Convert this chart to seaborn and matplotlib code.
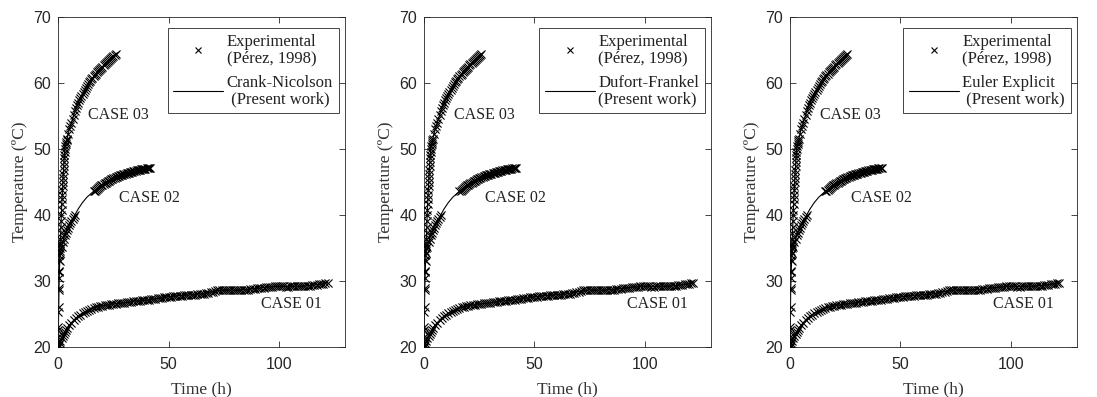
import numpy as np
import pandas as pd
import matplotlib
matplotlib.use("Agg")
import matplotlib.pyplot as plt
import seaborn as sns

# ---------------- data ----------------
# CASE 01 experimental
c1_t = [0, 0.3, 0.6, 1, 1.5, 2, 2.5, 3, 3.5, 4, 5, 6, 7, 8, 9, 10, 11, 12, 13, 14, 15, 16, 17, 18, 19,
        20, 21, 22, 23, 24, 25, 26, 27, 28, 29, 30, 31, 32, 33, 34, 35, 36, 37, 38, 39, 40, 41, 42, 43, 44,
        45, 46, 47, 48, 49, 50, 51, 52, 53, 54, 55, 56, 57, 58, 59, 60, 61, 62, 63, 64, 65, 66, 67, 68, 69,
        70, 71, 72, 73, 74, 75, 76, 77, 78, 79, 80, 81, 82, 83, 84, 85, 86, 87, 88, 89, 90, 91, 92, 93, 94,
        95, 96, 97, 98, 99, 100, 101, 102, 103, 104, 105, 106, 107, 108, 109, 110, 111, 112, 113, 114, 115,
        116, 117, 118, 119, 120, 121, 122]
c1_T = [20.0, 20.3, 20.6, 20.9, 21.3, 21.7, 22.0, 22.3, 22.6, 22.9, 23.3, 23.7, 24.1, 24.4, 24.7, 24.9,
        25.1, 25.3, 25.5, 25.6, 25.8, 25.9, 26.0, 26.1, 26.2, 26.2, 26.3, 26.35, 26.4, 26.45, 26.5, 26.5,
        26.6, 26.6, 26.65, 26.7, 26.75, 26.8, 26.85, 26.9, 26.95, 27.0, 27.0, 27.05, 27.1, 27.1, 27.15, 27.2,
        27.25, 27.3, 27.35, 27.4, 27.45, 27.5, 27.55, 27.6, 27.65, 27.7, 27.7, 27.75, 27.8, 27.8, 27.85,
        27.85, 27.9, 27.9, 27.95, 27.95, 28.0, 28.0, 28.05, 28.1, 28.15, 28.2, 28.3, 28.4, 28.5, 28.6, 28.65,
        28.7, 28.7, 28.65, 28.6, 28.6, 28.6, 28.6, 28.6, 28.6, 28.65, 28.65, 28.7, 28.7, 28.75, 28.8, 28.85,
        28.9, 28.95, 29.0, 29.0, 29.05, 29.1, 29.1, 29.15, 29.2, 29.2, 29.25, 29.2, 29.2, 29.15, 29.15, 29.2,
        29.2, 29.2, 29.2, 29.2, 29.2, 29.25, 29.25, 29.3, 29.3, 29.35, 29.4, 29.45, 29.5, 29.55, 29.6, 29.65, 29.7]

# CASE 02 experimental
c2_t = [0, 0.05, 0.1, 0.2, 0.3, 0.4, 0.5, 0.7, 1.0, 1.5, 2.0, 2.5, 3.0, 3.5, 4.0, 4.5, 5.0, 5.5, 6.0,
        6.5, 7.0, 7.5,
        16.0, 16.5, 17.0, 17.5, 18.0, 18.5, 19.0, 19.5, 20.0, 20.5, 21.0, 21.5, 22.0, 22.5, 23.0, 23.5,
        24.0, 24.5, 25.0, 25.5, 26.0, 26.5, 27.0, 27.5, 28.0, 28.5, 29.0, 29.5, 30.0, 30.5, 31.0, 31.5,
        32.0, 32.5, 33.0, 33.5, 34.0, 34.5, 35.0, 35.5, 36.0, 36.5, 37.0, 37.5, 38.0, 38.5, 39.0, 39.5,
        40.0, 40.5, 41.0, 41.5]
c2_T = [20.0, 21.5, 23.0, 26.0, 29.0, 30.5, 31.5, 33.0, 34.3, 35.2, 35.9, 36.4, 36.9, 37.3, 37.7, 38.1,
        38.5, 38.8, 39.1, 39.4, 39.7, 40.0,
        43.6, 43.7, 43.85, 44.0, 44.1, 44.25, 44.35, 44.5, 44.6, 44.7, 44.8, 44.9, 45.0, 45.1, 45.2, 45.3,
        45.4, 45.45, 45.55, 45.6, 45.7, 45.75, 45.85, 45.9, 46.0, 46.05, 46.1, 46.15, 46.2, 46.25, 46.3,
        46.35, 46.4, 46.45, 46.5, 46.55, 46.6, 46.65, 46.7, 46.75, 46.8, 46.8, 46.85, 46.9, 46.9, 46.95,
        47.0, 47.0, 47.05, 47.1, 47.1, 47.15]

# CASE 03 experimental
c3_t = [0, 0.05, 0.1, 0.2, 0.3, 0.4, 0.5, 0.6, 0.7, 0.8, 0.9, 1.0, 1.1, 1.2, 1.3, 1.4, 1.5, 1.6, 1.7,
        1.8, 1.9, 2.0, 2.1, 2.2, 2.3, 2.4, 2.5, 2.6, 2.7, 2.8, 2.9, 3.0, 3.2, 3.4, 3.6, 3.8, 4.0, 4.5, 5.0,
        5.5, 6.0, 6.5, 7.0, 7.5, 8.0, 8.5, 9.0, 9.5, 10.0, 10.5, 11.0, 11.5, 12.0, 12.5, 13.0, 13.5, 14.0,
        14.5, 15.0, 15.5, 16.0, 16.5, 17.0, 17.5, 18.0, 18.5, 19.0, 19.5, 20.0, 20.5, 21.0, 21.5, 22.0,
        22.5, 23.0, 23.5, 24.0, 24.5, 25.0, 25.5, 26.0]
c3_T = [20.0, 22.5, 25.3, 28.7, 31.4, 33.2, 34.0, 34.6, 35.0, 35.4, 35.8, 36.3, 37.3, 38.2, 39.1, 40.0,
        40.8, 41.6, 42.4, 43.1, 43.8, 44.4, 45.0, 45.6, 46.2, 46.8, 47.4, 48.0, 48.6, 49.1, 49.6, 50.0,
        50.4, 50.7, 51.0, 51.3, 51.5, 52.3, 53.0, 53.5, 54.0, 54.6, 55.2, 55.7, 56.2, 56.6, 57.0, 57.4,
        57.7, 58.1, 58.4, 58.7, 59.0, 59.3, 59.6, 59.85, 60.1, 60.35, 60.6, 60.8, 61.0, 61.2, 61.4, 61.6,
        61.8, 62.0, 62.2, 62.35, 62.5, 62.7, 62.9, 63.05, 63.2, 63.35, 63.5, 63.65, 63.8, 63.95, 64.1, 64.25, 64.4]

# Numerical solutions (present work)
m1_t = [0, 1, 2, 3, 4, 6, 8, 10, 12, 15, 18, 22, 26, 30, 35, 40, 45, 50, 55, 60, 65, 70, 75, 80, 85,
        90, 95, 100, 105, 110, 115, 122]
m1_T = [20.0, 20.9, 21.7, 22.3, 22.9, 23.7, 24.4, 24.9, 25.3, 25.8, 26.1, 26.35, 26.55, 26.7, 26.95,
        27.1, 27.35, 27.6, 27.8, 27.9, 28.05, 28.4, 28.65, 28.6, 28.7, 28.9, 29.1, 29.2, 29.2, 29.2, 29.35, 29.7]
m2_t = [0, 0.1, 0.2, 0.3, 0.5, 0.7, 1.0, 1.5, 2, 3, 4, 5, 6, 7, 8, 9, 10, 11, 12, 13, 14, 15, 16, 18,
        20, 22, 25, 28, 31, 34, 37, 40, 41.5]
m2_T = [20.0, 23.0, 26.0, 29.0, 31.5, 33.0, 34.3, 35.2, 35.9, 36.9, 37.7, 38.5, 39.1, 39.7, 40.3, 40.9,
        41.4, 41.9, 42.3, 42.7, 43.0, 43.3, 43.6, 44.1, 44.6, 45.0, 45.55, 46.0, 46.3, 46.6, 46.85, 47.0, 47.15]
m3_t = [0, 0.1, 0.2, 0.3, 0.5, 0.7, 1.0, 1.5, 2.0, 2.5, 3.0, 4.0, 5.0, 6.0, 8.0, 10.0, 12.0, 14.0,
        16.0, 18.0, 20.0, 22.0, 24.0, 26.0]
m3_T = [20.0, 25.3, 28.7, 31.4, 34.0, 35.0, 36.3, 40.8, 44.4, 47.4, 50.0, 51.5, 53.0, 54.0, 56.2, 57.7,
        59.0, 60.1, 61.0, 61.8, 62.5, 63.2, 63.8, 64.4]

methods = ["Crank-Nicolson\n (Present work)", "Dufort-Frankel\n(Present work)", "Euler Explicit\n (Present work)"]
exp_label = "Experimental\n(Pérez, 1998)"
case_labels = ["CASE 01", "CASE 02", "CASE 03"]
case_pos_t = [91.8, 27.7, 13.6]
case_pos_T = [26.5, 42.6, 55.2]
x_ticks = [0, 50, 100]
y_ticks = [20, 30, 40, 50, 60, 70]

# ---------------- figure ----------------
sns.set_theme(style="ticks")
plt.rcParams["font.family"] = ["Liberation Serif", "DejaVu Serif"]

exp_df = pd.concat([
    pd.DataFrame({"t": c1_t, "T": c1_T, "case": "1"}),
    pd.DataFrame({"t": c2_t, "T": c2_T, "case": "2"}),
    pd.DataFrame({"t": c3_t, "T": c3_T, "case": "3"}),
])
mod_df = pd.concat([
    pd.DataFrame({"t": m1_t, "T": m1_T, "case": "1"}),
    pd.DataFrame({"t": m2_t, "T": m2_T, "case": "2"}),
    pd.DataFrame({"t": m3_t, "T": m3_T, "case": "3"}),
])

fig = plt.figure(figsize=(10.97, 3.97), dpi=100)
lefts = [0.0531, 0.3866, 0.7202]
axes = [fig.add_axes([l, 0.126, 0.2616, 0.831]) for l in lefts]
gray = "#262626"

for ax, method in zip(axes, methods):
    sns.lineplot(data=mod_df, x="t", y="T", units="case", estimator=None, sort=False,
                 color="black", lw=0.8, ax=ax, legend=False)
    sns.scatterplot(data=exp_df, x="t", y="T", marker="x", color="black", s=34,
                    linewidth=0.8, ax=ax, legend=False, zorder=3)
    ax.set_xlim(0, 130)
    ax.set_ylim(20, 70)
    ax.set_xticks(x_ticks)
    ax.set_yticks(y_ticks)
    ax.tick_params(direction="in", length=4, width=0.6, top=True, right=True,
                   colors=gray, labelcolor=gray, labelsize=11.5,
                   labelfontfamily="Liberation Sans")
    ax.tick_params(axis="x", pad=7)
    ax.tick_params(axis="y", pad=5)
    for sp in ax.spines.values():
        sp.set_visible(True)
        sp.set_linewidth(0.6)
        sp.set_color(gray)
    ax.set_xlabel("Time (h)", fontsize=12.5, color="#333333", labelpad=7)
    ax.set_ylabel("Temperature (ºC)", fontsize=12.5, color="#333333", labelpad=4)
    for lab, tx, ty in zip(case_labels, case_pos_t, case_pos_T):
        ax.text(tx, ty, lab, fontsize=11.5, va="center", ha="left", color="#222222")

    h_exp = plt.Line2D([], [], ls="none", marker="x", color="black", ms=5, mew=0.8)
    h_mod = plt.Line2D([], [], ls="-", color="black", lw=0.8)
    leg = ax.legend([h_exp, h_mod], [exp_label, method], loc="upper right",
                    bbox_to_anchor=(0.978, 0.966), fontsize=12, frameon=True, fancybox=False,
                    framealpha=1, edgecolor=gray, handlelength=3.0, handletextpad=0.2,
                    labelspacing=0.55, borderpad=0.35, borderaxespad=0)
    leg.get_frame().set_linewidth(0.6)
    for txt in leg.get_texts():
        txt.set_linespacing(1.0)
        txt.set_color("#222222")

fig.savefig("out.png", dpi=100)
